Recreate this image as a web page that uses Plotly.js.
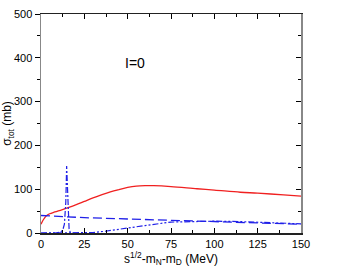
<!DOCTYPE html>
<html><head><meta charset="utf-8">
<script src="https://cdn.plot.ly/plotly-3.0.1.min.js"></script>
<style>html,body{margin:0;padding:0;background:#fff}#c{width:354px;height:274px}</style>
</head><body><div id="c"></div>
<script>
const redX = [0, 1, 2, 3, 5, 8, 12, 15, 20, 25, 30, 37, 45, 50, 55, 60, 65, 75, 90, 100, 115, 125, 140, 150];
const redY = [20, 28, 34, 39, 44, 48, 53, 57, 64, 72, 80, 90, 99, 104, 107, 108, 108, 106, 101, 98, 93, 91, 87, 84];
const dashX = [0, 15, 25, 50, 75, 100, 125, 150];
const dashY = [40, 37, 35, 32, 29, 26, 23, 20];
const peakX = [0, 8, 11, 12.5, 13.5, 14.3, 14.8, 15.2, 15.6, 16.2, 17, 20];
const peakY = [0, 0, 2, 6, 20, 70, 153, 100, 40, 10, 0, 0];
const lowX = [0, 15, 20, 25, 30, 37, 45, 50, 60, 75, 90, 100, 115, 125, 140, 150];
const lowY = [0, 0, 0, 0, 1, 4, 8, 11, 17, 25, 27, 27, 26, 25, 23, 21];

const traces = [
  {x: redX, y: redY, mode: 'lines', line: {color: '#f02020', width: 1.3, shape: 'spline'}},
  {x: dashX, y: dashY, mode: 'lines', line: {color: '#2020e8', width: 1.3, dash: '9px,4px'}},
  {x: peakX, y: peakY, mode: 'lines', line: {color: '#2020e8', width: 1.2, dash: '6px,2px,2px,2px'}},
  {x: lowX, y: lowY, mode: 'lines', line: {color: '#2020e8', width: 1.2, dash: '6px,2px,2px,2px,2px,2px'}},
  {x: [0], y: [0], yaxis: 'y2', mode: 'markers', marker: {opacity: 0}, hoverinfo: 'skip'}
];
const font = {family: 'Liberation Sans, Arial, sans-serif', size: 11, color: '#000'};
const layout = {
  width: 354, height: 274,
  margin: {l: 41, r: 53, t: 14, b: 41},
  paper_bgcolor: '#fff', plot_bgcolor: '#fff',
  showlegend: false,
  font: font,
  xaxis: {
    range: [0, 150], tickvals: [0, 25, 50, 75, 100, 125, 150],
    ticks: 'inside', ticklen: 5, tickcolor: '#000', tickwidth: 1,
    minor: {dtick: 12.5, tick0: 0, ticks: 'inside', ticklen: 3, tickcolor: '#000'},
    showline: true, linecolor: '#222', linewidth: 1.5, mirror: 'ticks',
    showgrid: false, zeroline: false,
    title: {text: 's<sup>1/2</sup>-m<sub>N</sub>-m<sub>D</sub> (MeV)', font: {size: 12}, standoff: 4}
  },
  yaxis: {
    range: [0, 500], tickvals: [0, 100, 200, 300, 400, 500],
    ticks: 'outside', ticklen: 5, tickcolor: '#000',
    minor: {dtick: 50, tick0: 0, ticks: 'outside', ticklen: 3, tickcolor: '#000'},
    showline: true, linecolor: '#888', linewidth: 1.5,
    showgrid: false, zeroline: false,
    title: {text: 'σ<sub>tot</sub> (mb)', font: {size: 12}, standoff: 6}
  },
  yaxis2: {
    overlaying: 'y', side: 'right', range: [0, 500], tickvals: [0, 100, 200, 300, 400, 500],
    ticks: 'inside', ticklen: 5, tickcolor: '#000', showticklabels: false,
    minor: {dtick: 50, tick0: 0, ticks: 'inside', ticklen: 3, tickcolor: '#000'},
    showline: true, linecolor: '#888', linewidth: 1.5, showgrid: false, zeroline: false
  },
  annotations: [{x: 54, y: 388, xref: 'x', yref: 'y', text: 'I=0', showarrow: false, font: {size: 14}}]
};
Plotly.newPlot('c', traces, layout, {staticPlot: true});
</script></body></html>
